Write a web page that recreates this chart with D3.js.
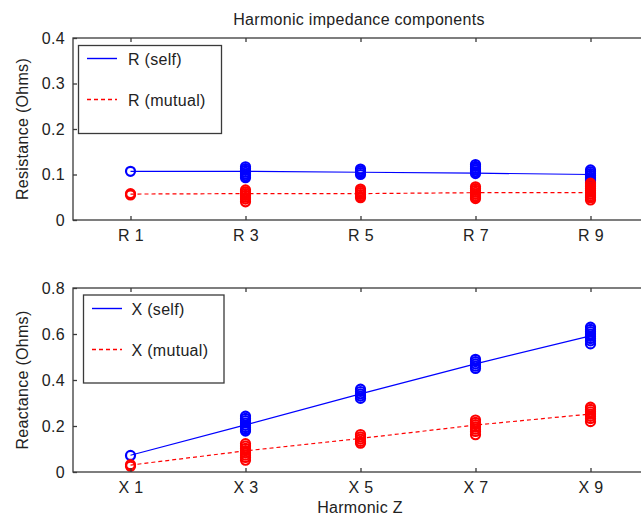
<!DOCTYPE html>
<html>
<head>
<meta charset="utf-8">
<script src="https://cdn.jsdelivr.net/npm/d3@7"></script>
<style>
  html, body { margin: 0; padding: 0; background: #fff; }
  svg { display: block; }
  text { font-family: "Liberation Sans", Arial, Helvetica, sans-serif; fill: #222; }
</style>
</head>
<body>
<div id="chart"></div>
<script>
// Harmonic orders shown on the x axis
const harmonics = [1, 3, 5, 7, 9];
const rTickLabels = ["R 1", "R 3", "R 5", "R 7", "R 9"];
const xTickLabels = ["X 1", "X 3", "X 5", "X 7", "X 9"];
const rYTicks = [0, 0.1, 0.2, 0.3, 0.4];
const xYTicks = [0, 0.2, 0.4, 0.6, 0.8];

// Mean curves (Ohms) per harmonic
const rSelfLine   = [0.107, 0.107, 0.105, 0.103, 0.100];
const rMutualLine = [0.057, 0.058, 0.058, 0.060, 0.060];
const xSelfLine   = [0.073, 0.205, 0.340, 0.470, 0.592];
const xMutualLine = [0.030, 0.092, 0.146, 0.204, 0.252];

// Individual case values (Ohms) per harmonic
const rSelfPts = [
  [0.107],
  [0.117, 0.113, 0.109, 0.105, 0.101, 0.097, 0.093],
  [0.112, 0.108, 0.104, 0.100],
  [0.122, 0.118, 0.114, 0.110, 0.106, 0.102],
  [0.110, 0.106, 0.102, 0.098, 0.094, 0.090, 0.086, 0.082]
];
const rMutualPts = [
  [0.058, 0.055],
  [0.066, 0.062, 0.058, 0.054, 0.050, 0.046, 0.040],
  [0.068, 0.064, 0.060, 0.056, 0.052, 0.049],
  [0.073, 0.069, 0.065, 0.061, 0.057, 0.053, 0.050, 0.047],
  [0.081, 0.077, 0.073, 0.069, 0.065, 0.061, 0.057, 0.053, 0.049, 0.044]
];
const xSelfPts = [
  [0.072],
  [0.243, 0.233, 0.223, 0.213, 0.203, 0.193, 0.185, 0.178],
  [0.360, 0.350, 0.340, 0.330, 0.320],
  [0.490, 0.480, 0.470, 0.460, 0.450],
  [0.630, 0.620, 0.610, 0.600, 0.590, 0.580, 0.570, 0.557]
];
const xMutualPts = [
  [0.032, 0.025],
  [0.123, 0.113, 0.103, 0.093, 0.083, 0.073, 0.063, 0.051],
  [0.163, 0.153, 0.143, 0.133, 0.125],
  [0.226, 0.216, 0.206, 0.196, 0.186, 0.176, 0.162],
  [0.282, 0.272, 0.262, 0.252, 0.242, 0.232, 0.219]
];

const W = 641, H = 517;
const FONT = 16;
const AXIS = "#3a3a3a";
const BLUE = "#0000ff", RED = "#ff0000";

const svg = d3.select("#chart").append("svg")
  .attr("width", W).attr("height", H);

const x = d3.scaleLinear().domain([0.5, 5.5]).range([73, 648]);

function panel(cfg) {
  const y = d3.scaleLinear().domain(cfg.yDomain).range([cfg.bottom, cfg.top]);
  const g = svg.append("g");
  const idx = harmonics.map((h, i) => i + 1);

  // mean curves
  const line = d3.line().x((d, i) => x(i + 1)).y(d => y(d));
  g.append("path").datum(cfg.selfLine)
    .attr("d", line).attr("fill", "none")
    .attr("stroke", BLUE).attr("stroke-width", 1.2);
  g.append("path").datum(cfg.mutualLine)
    .attr("d", line).attr("fill", "none")
    .attr("stroke", RED).attr("stroke-width", 1.2)
    .attr("stroke-dasharray", "4,3");

  // case markers
  const flat = (pts) => pts.flatMap((arr, i) => arr.map(v => ({ i: i + 1, v })));
  [[cfg.selfPts, BLUE], [cfg.mutualPts, RED]].forEach(([pts, col]) => {
    g.append("g").selectAll("circle").data(flat(pts)).join("circle")
      .attr("cx", d => x(d.i)).attr("cy", d => y(d.v)).attr("r", 4.5)
      .attr("fill", "none").attr("stroke", col).attr("stroke-width", 2.2);
  });

  // axes box
  g.append("rect")
    .attr("x", x.range()[0]).attr("y", cfg.top)
    .attr("width", x.range()[1] - x.range()[0]).attr("height", cfg.bottom - cfg.top)
    .attr("fill", "none").attr("stroke", AXIS).attr("stroke-width", 1.3);

  const fmt = d => d === 0 ? "0" : d3.format(".1f")(d);

  const ax = g.append("g").attr("transform", `translate(0,${cfg.bottom})`)
    .call(d3.axisBottom(x).tickValues(idx).tickFormat((d, i) => cfg.xLabels[i])
      .tickSizeInner(-4).tickSizeOuter(0).tickPadding(10));
  const axTop = g.append("g").attr("transform", `translate(0,${cfg.top})`)
    .call(d3.axisTop(x).tickValues(idx).tickFormat("").tickSizeInner(-4).tickSizeOuter(0));
  const ay = g.append("g").attr("transform", `translate(${x.range()[0]},0)`)
    .call(d3.axisLeft(y).tickValues(cfg.yTicks).tickFormat(fmt)
      .tickSizeInner(-4).tickSizeOuter(0).tickPadding(8));
  const ayR = g.append("g").attr("transform", `translate(${x.range()[1]},0)`)
    .call(d3.axisRight(y).tickValues(cfg.yTicks).tickFormat("").tickSizeInner(-4).tickSizeOuter(0));

  [ax, axTop, ay, ayR].forEach(a => {
    a.select(".domain").remove();
    a.selectAll("line").attr("stroke", AXIS).attr("stroke-width", 1.3);
    a.selectAll("text").attr("font-size", FONT).attr("fill", "#222")
      .attr("font-family", "Liberation Sans, Arial, sans-serif")
      .style("letter-spacing", "0.3px");
  });
  ax.selectAll("text").attr("dy", null).attr("y", 21);
  ay.selectAll("text").attr("x", -8);

  // y label
  g.append("text")
    .attr("transform", `translate(${cfg.yLabelX},${(cfg.top + cfg.bottom) / 2}) rotate(-90)`)
    .attr("text-anchor", "middle").attr("font-size", FONT)
    .style("letter-spacing", "0.3px")
    .text(cfg.yLabel);

  // legend
  const L = cfg.legend;
  g.append("rect").attr("x", L.x).attr("y", L.y).attr("width", L.w).attr("height", L.h)
    .attr("fill", "#fff").attr("stroke", AXIS).attr("stroke-width", 1.3);
  L.items.forEach((it, k) => {
    const ly = L.rowY[k];
    g.append("line").attr("x1", L.lx1).attr("x2", L.lx2).attr("y1", ly).attr("y2", ly)
      .attr("stroke", it.color).attr("stroke-width", 1.4)
      .attr("stroke-dasharray", it.dash ? "4,3" : null);
    g.append("text").attr("x", L.tx).attr("y", ly + 6).attr("font-size", FONT)
      .style("letter-spacing", "0.3px").text(it.label);
  });
}

panel({
  top: 38, bottom: 220, yDomain: [0, 0.4], yTicks: rYTicks,
  selfLine: rSelfLine, mutualLine: rMutualLine,
  selfPts: rSelfPts, mutualPts: rMutualPts,
  xLabels: rTickLabels, yLabel: "Resistance (Ohms)", yLabelX: 28,
  legend: { x: 78.5, y: 45.5, w: 143, h: 88, lx1: 87, lx2: 117, tx: 128,
    rowY: [58.5, 99.5],
    items: [{ label: "R (self)", color: BLUE }, { label: "R (mutual)", color: RED, dash: true }] }
});

panel({
  top: 288, bottom: 472, yDomain: [0, 0.8], yTicks: xYTicks,
  selfLine: xSelfLine, mutualLine: xMutualLine,
  selfPts: xSelfPts, mutualPts: xMutualPts,
  xLabels: xTickLabels, yLabel: "Reactance (Ohms)", yLabelX: 28,
  legend: { x: 83.5, y: 295, w: 140.5, h: 88, lx1: 92, lx2: 122, tx: 131.5,
    rowY: [308.5, 349.5],
    items: [{ label: "X (self)", color: BLUE }, { label: "X (mutual)", color: RED, dash: true }] }
});

// title and shared x label
svg.append("text").attr("x", 359).attr("y", 25).attr("text-anchor", "middle")
  .attr("font-size", FONT).style("letter-spacing", "0.3px")
  .text("Harmonic impedance components");
svg.append("text").attr("x", 360).attr("y", 513).attr("text-anchor", "middle")
  .attr("font-size", FONT).style("letter-spacing", "0.3px")
  .text("Harmonic Z");
</script>
</body>
</html>
